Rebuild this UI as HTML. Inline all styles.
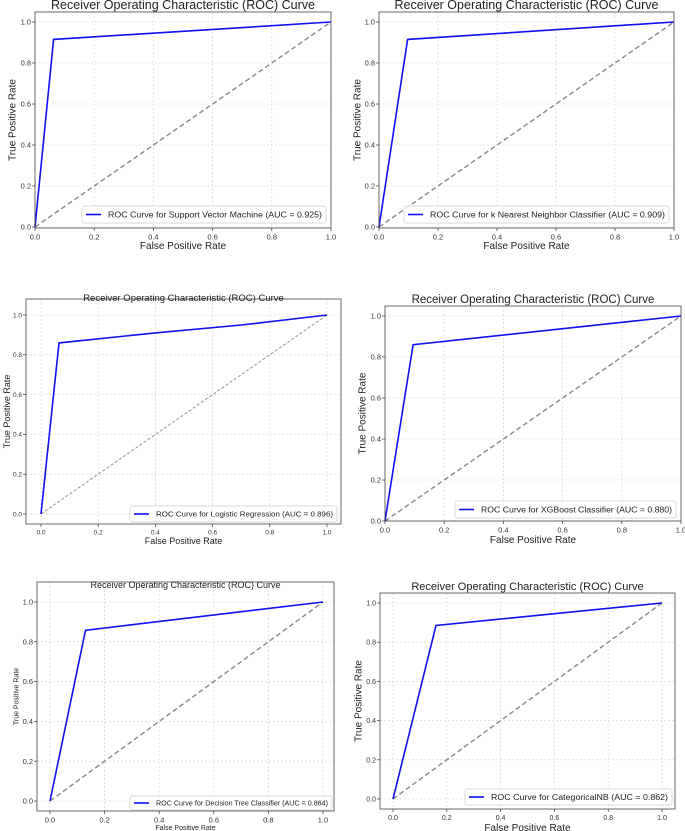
<!DOCTYPE html>
<html><head><meta charset="utf-8"><style>
html,body{margin:0;padding:0;background:#fff;}
svg{display:block;font-family:"Liberation Sans","DejaVu Sans",sans-serif;}
</style></head><body>
<svg id="c" width="685" height="831" viewBox="0 0 685 831" xmlns="http://www.w3.org/2000/svg"></svg>
<script>
// Data arrays
const ticks = [0, 0.2, 0.4, 0.6, 0.8, 1.0];
const tickLabels = ["0.0", "0.2", "0.4", "0.6", "0.8", "1.0"];
const modelNames = ["Support Vector Machine", "k Nearest Neighbor Classifier", "Logistic Regression", "XGBoost Classifier", "Decision Tree Classifier", "CategoricalNB"];
const aucValues = ["0.925", "0.909", "0.896", "0.880", "0.864", "0.862"];
const fprSVM = [0, 0.063, 1];
const tprSVM = [0, 0.915, 1];
const fprKNN = [0, 0.097, 1];
const tprKNN = [0, 0.915, 1];
const fprLR = [0, 0.063, 0.4, 0.7, 1];
const tprLR = [0, 0.86, 0.91, 0.95, 1];
const fprXGB = [0, 0.095, 1];
const tprXGB = [0, 0.86, 1];
const fprDT = [0, 0.13, 1];
const tprDT = [0, 0.858, 1];
const fprNB = [0, 0.16, 1];
const tprNB = [0, 0.885, 1];
const fprSeries = [fprSVM, fprKNN, fprLR, fprXGB, fprDT, fprNB];
const tprSeries = [tprSVM, tprKNN, tprLR, tprXGB, tprDT, tprNB];

const NS = "http://www.w3.org/2000/svg";
const svg = document.getElementById('c');
function mk(tag, attrs, parent, text) {
  const e = document.createElementNS(NS, tag);
  for (const k in attrs) e.setAttribute(k, attrs[k]);
  if (text !== undefined) e.textContent = text;
  parent.appendChild(e);
  return e;
}
const layouts = [
  {fl:35,ft:12,fr:331,fb:228,x0:35,x1:331,y0:227,y1:22,tt:9,ts:12.5,tk:7.5,lb:10,xly:249,yl:12,lg:[82,206,326,223],lf:8},
  {fl:379,ft:12,fr:674,fb:228,x0:379,x1:674,y0:227,y1:22,tt:9,ts:12.5,tk:7.5,lb:10,xly:249,yl:357,lg:[404,206,669,223],lf:8},
  {fl:26,ft:299,fr:341,fb:524,x0:41,x1:327,y0:514,y1:315,tt:301,ts:9.5,tk:6.5,lb:9,xly:544,yl:7,lg:[130,506,337,522],lf:7.5},
  {fl:385,ft:306,fr:681,fb:521,x0:385,x1:681,y0:521,y1:316,tt:303,ts:11.5,tk:7.5,lb:10,xly:543,yl:362,lg:[455,501,676,518],lf:8},
  {fl:37,ft:582,fr:334,fb:811,x0:50,x1:323,y0:801,y1:602,tt:588,ts:9,tk:7.5,lb:7,xly:830,yl:16,lg:[130,796,332,810],lf:7},
  {fl:380,ft:593,fr:675,fb:809,x0:393,x1:662,y0:799,y1:603,tt:590,ts:11,tk:7,lb:10,xly:831,yl:358,lg:[465,789,672,805],lf:8}
];
layouts.forEach((L, i) => {
  const g = mk('g', {}, svg);
  
  
  const sx = v => L.x0 + v * (L.x1 - L.x0);
  const sy = v => L.y0 + v * (L.y1 - L.y0);
  const cx = (L.fl + L.fr) / 2, cy = (L.ft + L.fb) / 2;
  ticks.forEach((t, j) => {
    const gx = mk('line', {x1:sx(t), x2:sx(t), y1:L.ft, y2:L.fb, stroke:'#d0d0d0', 'stroke-width':0.6, 'stroke-dasharray':'2,2'}, g);
    
    
    const gy = mk('line', {x1:L.fl, x2:L.fr, y1:sy(t), y2:sy(t), stroke:'#d0d0d0', 'stroke-width':0.6, 'stroke-dasharray':'2,2'}, g);
    
    
    mk('line', {x1:sx(t), x2:sx(t), y1:L.fb, y2:L.fb + 3, stroke:'#333', 'stroke-width':0.7}, g);
    mk('line', {x1:L.fl - 3, x2:L.fl, y1:sy(t), y2:sy(t), stroke:'#333', 'stroke-width':0.7}, g);
    const xt = mk('text', {x:sx(t), y:L.fb + 4 + L.tk, 'font-size':L.tk, 'text-anchor':'middle', fill:'#333'}, g, tickLabels[j]);
    
    
    const yt = mk('text', {x:L.fl - 4, y:sy(t) + L.tk * 0.35, 'font-size':L.tk, 'text-anchor':'end', fill:'#333'}, g, tickLabels[j]);
    
    
  });
  const d = mk('line', {x1:sx(0), y1:sy(0), x2:sx(1), y2:sy(1), stroke:'#888', 'stroke-width':i===2?0.9:1.4, 'stroke-dasharray':i===2?'3,2':'5,3'}, g);
  
  
  const fx = fprSeries[i], ty = tprSeries[i];
  const pts = fx.map((v, k) => sx(v).toFixed(1) + ',' + sy(ty[k]).toFixed(1)).join(' ');
  const c = mk('polyline', {points:pts, fill:'none', stroke:'#1010f0', 'stroke-width':1.6}, g);
  
  
  const f = mk('rect', {x:L.fl, y:L.ft, width:L.fr - L.fl, height:L.fb - L.ft, fill:'none', stroke:'#444', 'stroke-width':0.8}, g);
  
  
  const [lx1, ly1, lx2, ly2] = L.lg;
  const lg = mk('g', {}, g);
  
  
  mk('rect', {x:lx1, y:ly1, width:lx2 - lx1, height:ly2 - ly1, fill:'#fff', 'fill-opacity':0.85, stroke:'#ccc', 'stroke-width':0.7, rx:2}, lg);
  const my = (ly1 + ly2) / 2;
  mk('line', {x1:lx1 + 4, x2:lx1 + 19, y1:my, y2:my, stroke:'#1010f0', 'stroke-width':1.6}, lg);
  const lt = mk('text', {x:lx1 + 26, y:my + L.lf * 0.36, 'font-size':L.lf, fill:'#222', textLength:(lx2 - lx1 - 30), lengthAdjust:'spacingAndGlyphs'}, lg, 'ROC Curve for ' + modelNames[i] + ' (AUC = ' + aucValues[i] + ')');
  
  
  const t = mk('text', {x:cx, y:L.tt, 'font-size':L.ts, 'text-anchor':'middle', fill:'#222'}, g, 'Receiver Operating Characteristic (ROC) Curve');
  
  
  const xl = mk('text', {x:cx, y:L.xly, 'font-size':L.lb, 'text-anchor':'middle', fill:'#222'}, g, 'False Positive Rate');
  
  
  const yl = mk('text', {x:L.yl, y:cy, 'font-size':L.lb, 'text-anchor':'middle', fill:'#222', transform:'rotate(-90 ' + L.yl + ' ' + cy + ')', dy:'0.35em'}, g, 'True Positive Rate');
  
  
});
</script>
</body></html>
